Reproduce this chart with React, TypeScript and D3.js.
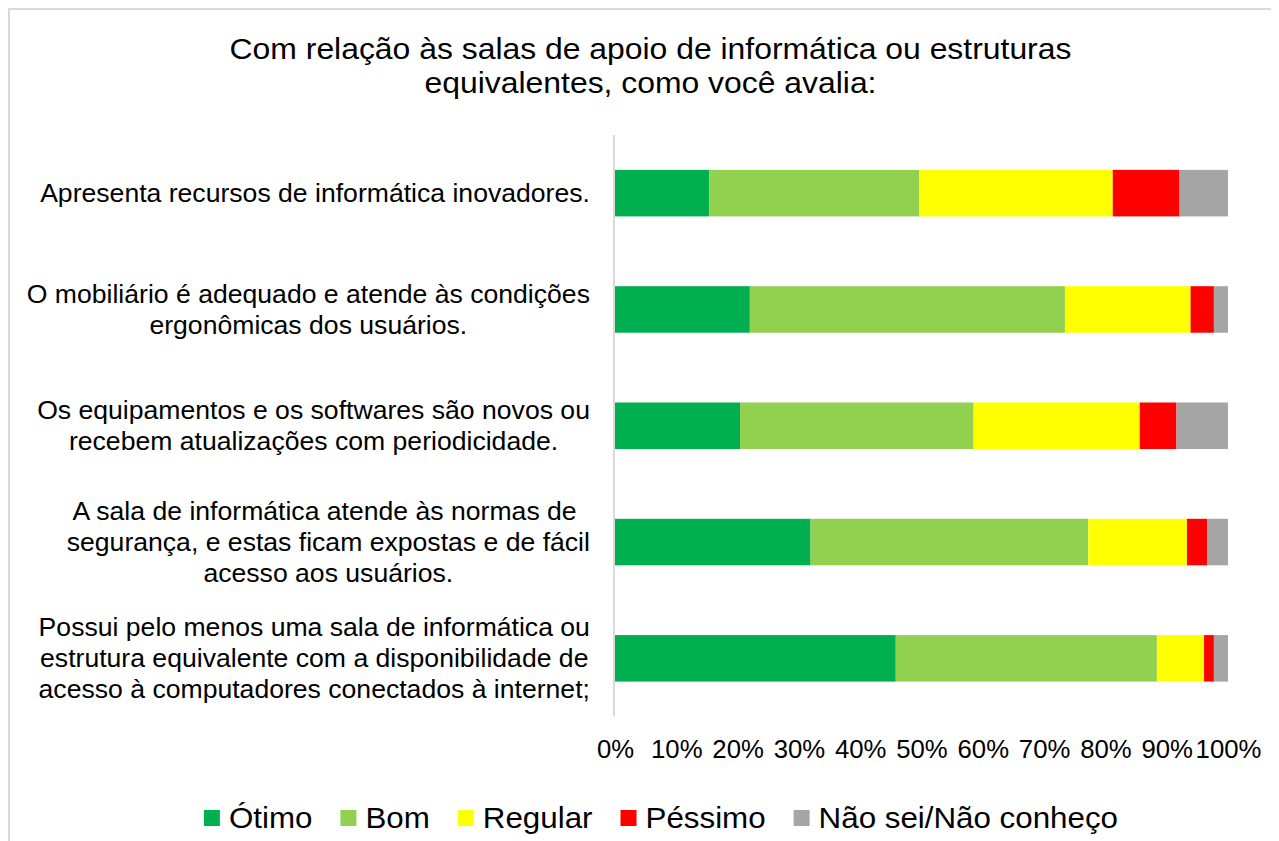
import React, { useEffect, useRef } from "react";
import * as d3 from "d3";

const titleLines = [
  "Com relação às salas de apoio de informática ou estruturas",
  "equivalentes, como você avalia:",
];

const categoryLabels: string[][] = [
  ["Apresenta recursos de informática inovadores."],
  ["O mobiliário é adequado e atende às condições", "ergonômicas dos usuários."],
  ["Os equipamentos e os softwares são novos ou", "recebem atualizações com periodicidade."],
  ["A sala de informática atende às normas de ", "segurança, e estas ficam expostas e de fácil", "acesso aos usuários."],
  [
    "Possui pelo menos uma sala de informática ou",
    "estrutura equivalente com a disponibilidade de",
    "acesso à computadores conectados à internet;",
  ],
];

const seriesNames = ["Ótimo", "Bom", "Regular", "Péssimo", "Não sei/Não conheço"];
const seriesColors = ["#00B050", "#92D050", "#FFFF00", "#FF0000", "#A5A5A5"];

const otimo = [15.4, 22.0, 20.4, 31.9, 45.8];
const bom = [34.2, 51.4, 38.1, 45.3, 42.6];
const regular = [31.6, 20.5, 27.1, 16.1, 7.7];
const pessimo = [10.9, 3.8, 6.0, 3.3, 1.6];
const naoSei = [7.9, 2.3, 8.4, 3.4, 2.3];

const tickValues = [0, 0.1, 0.2, 0.3, 0.4, 0.5, 0.6, 0.7, 0.8, 0.9, 1.0];

const FONT = "'Liberation Sans', Arial, Helvetica, sans-serif";

export default function App() {
  const ref = useRef<SVGSVGElement>(null);

  useEffect(() => {
    const svg = d3.select(ref.current);
    svg.selectAll("*").remove();

    // outer border
    svg
      .append("rect")
      .attr("x", 1)
      .attr("y", 1)
      .attr("width", 1400)
      .attr("height", 900)
      .attr("fill", "#fff")
      .attr("stroke", "#d9d9d9")
      .attr("stroke-width", 2);

    // title
    const titleSx = 1.1;
    titleLines.forEach((t, i) => {
      svg
        .append("text")
        .attr("transform", `translate(642.5,${51 + i * 34}) scale(${titleSx},1)`)
        .attr("text-anchor", "middle")
        .style("font-family", FONT)
        .style("font-size", "29px")
        .attr("fill", "#000")
        .text(t);
    });

    const x = d3.scaleLinear().domain([0, 1]).range([607, 1220]);
    const y = d3
      .scaleBand<number>()
      .domain(d3.range(categoryLabels.length))
      .range([127, 708.5])
      .paddingInner(0.6)
      .paddingOuter(0.3);

    const rows = categoryLabels.map((_, i) => ({
      idx: i,
      [seriesNames[0]]: otimo[i],
      [seriesNames[1]]: bom[i],
      [seriesNames[2]]: regular[i],
      [seriesNames[3]]: pessimo[i],
      [seriesNames[4]]: naoSei[i],
    }));

    const stack = d3
      .stack<any>()
      .keys(seriesNames)
      .offset(d3.stackOffsetExpand);
    const layers = stack(rows);

    // axis line
    svg
      .append("line")
      .attr("x1", x(0) - 1)
      .attr("x2", x(0) - 1)
      .attr("y1", 127)
      .attr("y2", 708.5)
      .attr("stroke", "#d9d9d9")
      .attr("stroke-width", 2);

    // bars
    layers.forEach((layer, li) => {
      svg
        .append("g")
        .selectAll("rect")
        .data(layer)
        .join("rect")
        .attr("x", (d) => x(d[0]))
        .attr("width", (d) => x(d[1]) - x(d[0]))
        .attr("y", (d) => y(d.data.idx)!)
        .attr("height", y.bandwidth())
        .attr("fill", seriesColors[li]);
    });

    // tick labels
    const tickSx = 1.03;
    const axis = d3
      .axisBottom(x)
      .tickValues(tickValues)
      .tickFormat(d3.format(".0%"))
      .tickSize(0);
    const ag = svg.append("g").attr("transform", "translate(0,750)").call(axis);
    ag.select(".domain").remove();
    ag.selectAll("text")
      .attr("y", 0)
      .attr("dy", 0)
      .attr("transform", `scale(${tickSx},1)`)
      .attr("fill", "#000")
      .style("font-family", FONT)
      .style("font-size", "25px");

    // category labels
    const labSx = 1.043;
    const labFs = 25.5;
    const lineH = 31;
    categoryLabels.forEach((lines, i) => {
      const cy = y(i)! + y.bandwidth() / 2;
      const g = svg.append("g");
      const texts = lines.map((ln) =>
        g
          .append("text")
          .attr("text-anchor", "middle")
          .style("font-family", FONT)
          .style("font-size", `${labFs}px`)
          .style("white-space", "pre")
          .attr("fill", "#000")
          .text(ln)
      );
      const maxW =
        d3.max(texts, (t) => (t.node() as SVGTextElement).getComputedTextLength()) || 0;
      const cx = 582 - (maxW * labSx) / 2;
      texts.forEach((t, k) => {
        const by = cy + (k - (lines.length - 1) / 2) * lineH + 0.35 * labFs;
        t.attr("transform", `translate(${cx},${by}) scale(${labSx},1)`);
      });
    });

    // legend
    const legSx = 1.08;
    const legFs = 29;
    const sq = 16;
    const gapSq = 9;
    const gapItem = 28;
    const lg = svg.append("g");
    const items = seriesNames.map((name, i) => {
      const g = lg.append("g");
      g.append("rect")
        .attr("width", sq)
        .attr("height", sq)
        .attr("y", 802)
        .attr("fill", seriesColors[i]);
      const t = g
        .append("text")
        .style("font-family", FONT)
        .style("font-size", `${legFs}px`)
        .attr("fill", "#000")
        .text(name);
      const w = (t.node() as SVGTextElement).getComputedTextLength() * legSx;
      return { g, t, w };
    });
    const total =
      d3.sum(items, (it) => sq + gapSq + it.w) + gapItem * (items.length - 1);
    let cur = 653 - total / 2;
    items.forEach((it) => {
      it.g.select("rect").attr("x", cur);
      it.t.attr("transform", `translate(${cur + sq + gapSq},820) scale(${legSx},1)`);
      cur += sq + gapSq + it.w + gapItem;
    });
  }, []);

  return (
    <>
      <style>{"body{overflow:hidden;margin:8px;}"}</style>
      <svg
        ref={ref}
        width={1271}
        height={833}
        style={{ display: "block" }}
      />
    </>
  );
}
